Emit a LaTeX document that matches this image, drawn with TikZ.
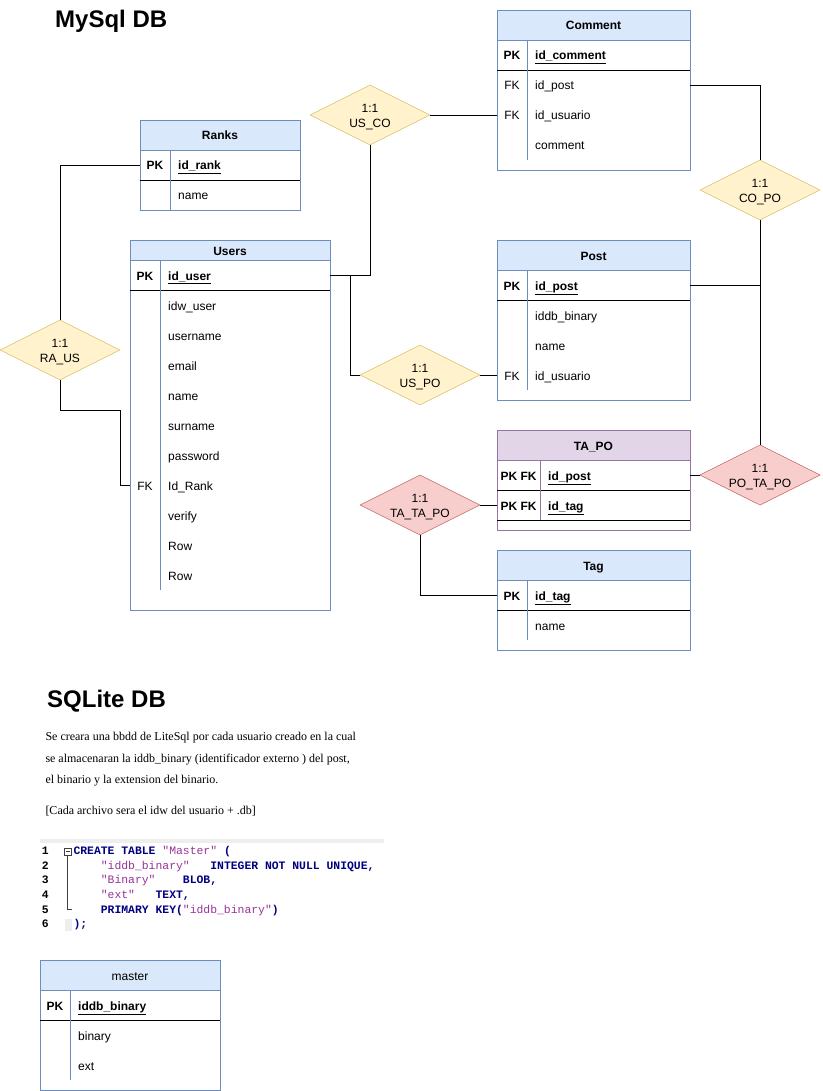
\documentclass[tikz,border=0pt]{standalone}
\usepackage{fontspec}
\setmainfont{Liberation Sans}
\newfontfamily\paperfont{Liberation Serif}
\newfontfamily\codefont{Liberation Mono}
\usetikzlibrary{shapes.geometric}

\definecolor{hdrblue}{HTML}{DAE8FC}
\definecolor{lineblue}{HTML}{6C8EBF}
\definecolor{hdrpurple}{HTML}{E1D5E7}
\definecolor{linepurple}{HTML}{9673A6}
\definecolor{relyellow}{HTML}{FFF2CC}
\definecolor{lineyellow}{HTML}{D6B656}
\definecolor{relred}{HTML}{F8CECC}
\definecolor{linered}{HTML}{B85450}
\definecolor{sqlkw}{HTML}{000080}
\definecolor{sqlstr}{HTML}{993399}
\definecolor{gutter}{HTML}{EEEEEE}

\tikzset{
  tbl/.style={draw=lineblue, fill=white},
  hdr/.style={draw=lineblue, fill=hdrblue, minimum height=30, inner sep=0, text height=12, text depth=2, font=\bfseries},
  keycell/.style={minimum width=30, minimum height=30, inner sep=0, text height=12, text depth=2},
  pkcell/.style={keycell, font=\bfseries},
  fld/.style={anchor=west, minimum height=30, inner xsep=8, inner ysep=0, text height=12, text depth=2, text width=#1, align=left},
  keyline/.style={draw=lineblue},
  rowline/.style={draw=black},
  rel/.style={diamond, aspect=2, minimum width=120, minimum height=60, inner sep=0, text height=26.6, align=center},
  relok/.style={rel, draw=lineyellow, fill=relyellow},
  relnm/.style={rel, draw=linered, fill=relred},
  link/.style={draw=black},
  title/.style={font=\fontsize{24}{28}\selectfont\bfseries, inner sep=0, anchor=base west},
  para/.style={font=\paperfont, inner sep=0, anchor=base west},
  code/.style={font=\codefont\fontsize{11.4}{13}\selectfont, inner sep=0, anchor=base west},
}

\begin{document}
\fontsize{12}{14.4}\selectfont
\begin{tikzpicture}[x=1pt, y=-1pt]
\useasboundingbox (0,0) rectangle (822,1091);

% titles
\node[title] (mysql) at (55,28) {MySql DB};
\node[title] (sqlite) at (47,707) {SQLite DB};

% Ranks
\draw[tbl] (140,120) rectangle (300,210);
\node[hdr, minimum width=160] (rnk) at (220,135) {Ranks};
\node[pkcell] (rnk-k1) at (155,165) {PK};
\node[fld=114] (rnk-pk) at (170,165) {\underline{\textbf{id\_rank}}};
\node[fld=114] (rnk-f1) at (170,195) {name};
\draw[rowline] (140,180) -- (300,180);
\draw[keyline] (170,150) -- (170,210);

% Users
\draw[tbl] (130,240) rectangle (330,610);
\node[hdr, minimum width=200, minimum height=20] (usr) at (230,250) {Users};
\node[pkcell] (usr-k1) at (145,275) {PK};
\node[fld=154] (usr-pk) at (160,275) {\underline{\textbf{id\_user}}};
\foreach \fname [count=\i] in {idw\_user, username, email, name, surname, password, Id\_Rank, verify, Row, Row}
  \node[fld=154] (usr-f\i) at (160,275+30*\i) {\fname};
\node[keycell] (usr-fk) at (145,485) {FK};
\draw[rowline] (130,290) -- (330,290);
\draw[keyline] (160,260) -- (160,590);

% Comment
\draw[tbl] (497,10) rectangle (690,170);
\node[hdr, minimum width=193] (com) at (593.5,25) {Comment};
\node[pkcell] (com-k1) at (512,55) {PK};
\node[fld=147] (com-pk) at (527,55) {\underline{\textbf{id\_comment}}};
\node[keycell] (com-k2) at (512,85) {FK};
\node[fld=147] (com-f1) at (527,85) {id\_post};
\node[keycell] (com-k3) at (512,115) {FK};
\node[fld=147] (com-f2) at (527,115) {id\_usuario};
\node[fld=147] (com-f3) at (527,145) {comment};
\draw[rowline] (497,70) -- (690,70);
\draw[keyline] (527,40) -- (527,160);

% Post
\draw[tbl] (497,240) rectangle (690,400);
\node[hdr, minimum width=193] (pst) at (593.5,255) {Post};
\node[pkcell] (pst-k1) at (512,285) {PK};
\node[fld=147] (pst-pk) at (527,285) {\underline{\textbf{id\_post}}};
\node[fld=147] (pst-f1) at (527,315) {iddb\_binary};
\node[fld=147] (pst-f2) at (527,345) {name};
\node[keycell] (pst-k4) at (512,375) {FK};
\node[fld=147] (pst-f3) at (527,375) {id\_usuario};
\draw[rowline] (497,300) -- (690,300);
\draw[keyline] (527,270) -- (527,390);

% TA_PO
\draw[draw=linepurple, fill=white] (497,430) rectangle (690,530);
\node[hdr, draw=linepurple, fill=hdrpurple, minimum width=193] (tap) at (593.5,445) {TA\_PO};
\node[pkcell, minimum width=43] (tap-k1) at (518.5,475) {PK FK};
\node[fld=134] (tap-f1) at (540,475) {\underline{\textbf{id\_post}}};
\node[pkcell, minimum width=43] (tap-k2) at (518.5,505) {PK FK};
\node[fld=134] (tap-f2) at (540,505) {\underline{\textbf{id\_tag}}};
\draw[rowline] (497,490) -- (690,490);
\draw[rowline] (497,520) -- (690,520);
\draw[draw=linepurple] (540,460) -- (540,520);

% Tag
\draw[tbl] (497,550) rectangle (690,650);
\node[hdr, minimum width=193] (tag) at (593.5,565) {Tag};
\node[pkcell] (tag-k1) at (512,595) {PK};
\node[fld=147] (tag-pk) at (527,595) {\underline{\textbf{id\_tag}}};
\node[fld=147] (tag-f1) at (527,625) {name};
\draw[rowline] (497,610) -- (690,610);
\draw[keyline] (527,580) -- (527,640);

% relations
\node[relok] (usco) at (370,115) {1:1\\US\_CO};
\node[relok] (raus) at (60,350) {1:1\\RA\_US};
\node[relok] (uspo) at (420,375) {1:1\\US\_PO};
\node[relok] (copo) at (760,190) {1:1\\CO\_PO};
\node[relnm] (potapo) at (760,475) {1:1\\PO\_TA\_PO};
\node[relnm] (tatapo) at (420,505) {1:1\\TA\_TA\_PO};

\draw[link] (rnk-k1.west) -| (raus.north);
\draw[link] (raus.south) |- (120,410) |- (usr-fk.west);
\draw[link] (usr-pk.east) -| (usco.south);
\draw[link] (usr-pk.east) -- ++(20,0) |- (uspo.west);
\draw[link] (usco.east) -- (com-k3.west);
\draw[link] (uspo.east) -- (pst-k4.west);
\draw[link] (com-f1.east) -| (copo.north);
\draw[link] (copo.south) |- (pst-pk.east);
\draw[link] (pst-pk.east) -| (potapo.north);
\draw[link] (potapo.west) -- (tap-f1.east);
\draw[link] (tatapo.east) -- (tap-k2.west);
\draw[link] (tatapo.south) |- (tag-k1.west);

% SQLite notes
\node[para] (desc1) at (45.3,740) {Se creara una bbdd de LiteSql por cada usuario creado en la cual};
\node[para] (desc2) at (45.3,762) {se almacenaran la iddb\_binary (identificador externo ) del post,};
\node[para] (desc3) at (45.3,783) {el binario y la extension del binario.};
\node[para] (desc4) at (45.3,814) {[Cada archivo sera el idw del usuario + .db]};

% code block
\fill[gutter] (40,839) rectangle (384,843);
\fill[gutter] (65,919) rectangle (72,931);
\draw[black!75] (64,848) rectangle (71,855);
\draw[black!75] (65.5,851.5) -- (69.5,851.5);
\draw[black!75] (67.5,855) -- (67.5,909) -- (71.5,909);
\foreach \n in {1,...,6}
  \node[code, font=\codefont\fontsize{11.4}{13}\selectfont\bfseries] (ln\n) at (41.7,839.7+14.7*\n) {\n};
\node[code] (sql1) at (73.3,854.4) {{\color{sqlkw}\bfseries CREATE~TABLE}~{\color{sqlstr}"Master"}~{\color{sqlkw}\bfseries (}};
\node[code] (sql2) at (73.3,869.1) {~~~~{\color{sqlstr}"iddb\_binary"}~~~{\color{sqlkw}\bfseries INTEGER~NOT~NULL~UNIQUE,}};
\node[code] (sql3) at (73.3,883.8) {~~~~{\color{sqlstr}"Binary"}~~~~{\color{sqlkw}\bfseries BLOB,}};
\node[code] (sql4) at (73.3,898.5) {~~~~{\color{sqlstr}"ext"}~~~{\color{sqlkw}\bfseries TEXT,}};
\node[code] (sql5) at (73.3,913.2) {~~~~{\color{sqlkw}\bfseries PRIMARY~KEY(}{\color{sqlstr}"iddb\_binary"}{\color{sqlkw}\bfseries )}};
\node[code] (sql6) at (73.3,927.9) {{\color{sqlkw}\bfseries );}};

% master
\draw[tbl] (40,960) rectangle (220,1090);
\node[hdr, minimum width=180, font=\mdseries] (mst) at (130,975) {master};
\node[pkcell] (mst-k1) at (55,1005) {PK};
\node[fld=134] (mst-pk) at (70,1005) {\underline{\textbf{iddb\_binary}}};
\node[fld=134] (mst-f1) at (70,1035) {binary};
\node[fld=134] (mst-f2) at (70,1065) {ext};
\draw[rowline] (40,1020) -- (220,1020);
\draw[keyline] (70,990) -- (70,1080);
\end{tikzpicture}
\end{document}
